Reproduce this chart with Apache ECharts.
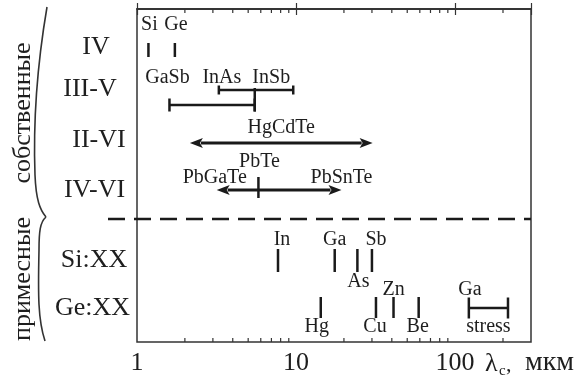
<!DOCTYPE html>
<html><head><meta charset="utf-8">
<script src="https://cdn.jsdelivr.net/npm/echarts@6/dist/echarts.min.js"></script>
<style>html,body{margin:0;padding:0;background:#fff}#c{width:582px;height:376px}</style>
</head><body><div id="c"></div>
<script>
// ---- data ----
const rowNames = ['IV', 'III-V', 'II-VI', 'IV-VI', 'Si:XX', 'Ge:XX'];
const groupNames = ['собственные', 'примесные'];
const xTickLabels = ['1', '10', '100'];
const minorTickValues = [2, 3, 4, 5, 6, 7, 8, 9, 20, 30, 40, 50, 60, 70, 80, 90, 200];
const ivNames = ['Si', 'Ge'];
const ivCutoff = [1.18, 1.73];
const iiivNames = ['GaSb', 'InAs', 'InSb'];
const gasbRange = [1.6, 5.5];
const inasInsbRange = [3.27, 9.6];
const iiviName = 'HgCdTe';
const hgcdteRange = [2.15, 30.3];
const ivviNames = ['PbGaTe', 'PbTe', 'PbSnTe'];
const ivviRange = [3.17, 19.3];
const pbteCutoff = 5.8;
const siNames = ['In', 'Ga', 'As', 'Sb'];
const siCutoff = [7.7, 17.5, 24.3, 30];
const geNames = ['Hg', 'Cu', 'Zn', 'Be'];
const geCutoff = [14.3, 31.8, 41, 59];
const stressNames = ['Ga', 'stress'];
const stressRange = [122, 215];

// ---- layout (vertical positions in grid units, pixel offsets) ----
const L = {
  IV: {tick: [34, 48], label: 16},
  IIIV: {hi: 81, hiCap: 4.5, lo: 96, loCap: 6.5, label: 69},
  IIVI: {y: 134, label: 119},
  IVVI: {y: 181, tick: [168, 189], mid: 153, side: 169},
  sep: 210,
  Si: {tick: [240, 263], above: 231, below: 273, side: ['a', 'a', 'b', 'a'], dx: [4, 0, 1, 4]},
  Ge: {tick: [288, 309], bar: 299, cap: 10.5, above: 281, below: 318, side: ['b', 'b', 'a', 'b'], dx: [-4, -1, 0, -1]}
};
const rowLabelPos = [[96, 47], [90, 89], [99, 140], [94.5, 190], [94, 260.5], [92.5, 308]];
const groupPos = [[23, 113], [23, 279]];
const braceCurves = [
  [47, 7, 38, 60, 33, 120, 35, 175],
  [35, 175, 36, 200, 40, 210, 46, 217],
  [46, 217, 40, 222, 39, 232, 39, 250],
  [39, 250, 38, 295, 38, 320, 45, 341]
];
const FONT = '"Liberation Serif", "DejaVu Serif", serif';
const INK = '#1a1a1a';

// ---- build marks ----
const marks = [];
const vline = (x, y1, y2) => marks.push({k: 'v', x, y1, y2});
const hbar = (r, y, cap) => marks.push({k: 'bar', x1: r[0], x2: r[1], y, cap});
const arrow = (r, y) => marks.push({k: 'arrow', x1: r[0], x2: r[1], y});
const label = (text, x, y, dx) => marks.push({k: 'text', text, x, y, dx: dx || 0});
const geo = r => Math.sqrt(r[0] * r[1]);

minorTickValues.forEach(v => marks.push({k: 'minor', x: v}));

ivCutoff.forEach((v, i) => { vline(v, L.IV.tick[0], L.IV.tick[1]); label(ivNames[i], v, L.IV.label, 1); });

hbar(gasbRange, L.IIIV.lo, L.IIIV.loCap);
hbar(inasInsbRange, L.IIIV.hi, L.IIIV.hiCap);
vline(gasbRange[1], L.IIIV.hi - 2, L.IIIV.lo + L.IIIV.loCap);
label(iiivNames[0], gasbRange[0], L.IIIV.label, -2);
label(iiivNames[1], inasInsbRange[0], L.IIIV.label, 3);
label(iiivNames[2], inasInsbRange[1], L.IIIV.label, -22);

arrow(hgcdteRange, L.IIVI.y);
label(iiviName, geo(hgcdteRange), L.IIVI.label, 0);

arrow(ivviRange, L.IVVI.y);
vline(pbteCutoff, L.IVVI.tick[0], L.IVVI.tick[1]);
label(ivviNames[0], ivviRange[0], L.IVVI.side, -2);
label(ivviNames[1], pbteCutoff, L.IVVI.mid, 1);
label(ivviNames[2], ivviRange[1], L.IVVI.side, 0);

marks.push({k: 'dash', y: L.sep});

siCutoff.forEach((v, i) => {
  vline(v, L.Si.tick[0], L.Si.tick[1]);
  label(siNames[i], v, L.Si.side[i] === 'a' ? L.Si.above : L.Si.below, L.Si.dx[i]);
});
geCutoff.forEach((v, i) => {
  vline(v, L.Ge.tick[0], L.Ge.tick[1]);
  label(geNames[i], v, L.Ge.side[i] === 'a' ? L.Ge.above : L.Ge.below, L.Ge.dx[i]);
});
hbar(stressRange, L.Ge.bar, L.Ge.cap);
label(stressNames[0], stressRange[0], L.Ge.above, 1);
label(stressNames[1], geo(stressRange), L.Ge.below, 0);

function renderItem(params, api) {
  const m = marks[params.dataIndex];
  const P = (x, y) => api.coord([x, y]);
  const st = {stroke: INK, lineWidth: 2.5};
  const line = (a, b, s) => ({type: 'line', shape: {x1: a[0], y1: a[1], x2: b[0], y2: b[1]}, style: s || st});
  if (m.k === 'v') return line(P(m.x, m.y1), P(m.x, m.y2));
  if (m.k === 'minor') {
    const t = P(m.x, 0), b = P(m.x, 333);
    const s = {stroke: '#333', lineWidth: 1.2};
    return {type: 'group', children: [line(t, [t[0], t[1] + 4], s), line(b, [b[0], b[1] - 4], s)]};
  }
  if (m.k === 'bar') {
    const a = P(m.x1, m.y), b = P(m.x2, m.y);
    return {type: 'group', children: [
      line(a, b),
      line([a[0], a[1] - m.cap], [a[0], a[1] + m.cap]),
      line([b[0], b[1] - m.cap], [b[0], b[1] + m.cap])
    ]};
  }
  if (m.k === 'arrow') {
    const a = P(m.x1, m.y), b = P(m.x2, m.y);
    const h = 13, w = 5;
    return {type: 'group', children: [
      line([a[0] + h - 2, a[1]], [b[0] - h + 2, b[1]], {stroke: INK, lineWidth: 3}),
      {type: 'polygon', shape: {points: [[a[0], a[1]], [a[0] + h, a[1] - w], [a[0] + h - 3, a[1]], [a[0] + h, a[1] + w]]}, style: {fill: INK}},
      {type: 'polygon', shape: {points: [[b[0], b[1]], [b[0] - h, b[1] - w], [b[0] - h + 3, b[1]], [b[0] - h, b[1] + w]]}, style: {fill: INK}}
    ]};
  }
  if (m.k === 'dash') {
    const a = P(1, m.y), b = P(300, m.y);
    return line([a[0] - 29, a[1]], b, {stroke: INK, lineWidth: 2.5, lineDash: [17, 9]});
  }
  if (m.k === 'text') {
    const p = P(m.x, m.y);
    return {type: 'text', x: p[0] + m.dx, y: p[1], style: {text: m.text, fontSize: 20, fontFamily: FONT, fill: '#1e1e1e', align: 'center', verticalAlign: 'middle'}};
  }
  return null;
}

const graphics = [];
rowNames.forEach((n, i) => graphics.push({type: 'text', x: rowLabelPos[i][0], y: rowLabelPos[i][1], style: {text: n, fontSize: 26, fontFamily: FONT, fill: '#1e1e1e', align: 'center', verticalAlign: 'middle'}}));
groupNames.forEach((n, i) => graphics.push({type: 'text', x: groupPos[i][0], y: groupPos[i][1], rotation: Math.PI / 2, style: {text: n, fontSize: 26, fontFamily: FONT, fill: '#1e1e1e', align: 'center', verticalAlign: 'middle'}}));
braceCurves.forEach(c => graphics.push({type: 'bezierCurve', shape: {x1: c[0], y1: c[1], cpx1: c[2], cpy1: c[3], cpx2: c[4], cpy2: c[5], x2: c[6], y2: c[7]}, style: {stroke: '#333', lineWidth: 1.6, fill: null}}));
graphics.push({type: 'text', x: 485, y: 364, style: {text: 'λ', fontSize: 26, fontFamily: FONT, fill: '#1e1e1e', align: 'left', verticalAlign: 'middle'}});
graphics.push({type: 'text', x: 499, y: 371, style: {text: 'c', fontSize: 15, fontFamily: FONT, fill: '#1e1e1e', align: 'left', verticalAlign: 'middle'}});
graphics.push({type: 'text', x: 506, y: 365, style: {text: ',', fontSize: 22, fontFamily: FONT, fill: '#1e1e1e', align: 'left', verticalAlign: 'middle'}});
graphics.push({type: 'text', x: 574, y: 363, style: {text: 'мкм', fontSize: 28, fontFamily: FONT, fill: '#1e1e1e', align: 'right', verticalAlign: 'middle'}});

const axisBase = {
  type: 'log', logBase: 10, min: 1, max: 300,
  axisLine: {show: true, lineStyle: {color: '#333', width: 1.5}},
  axisTick: {show: true, inside: true, length: 6, lineStyle: {color: '#333', width: 1.2}},
  splitLine: {show: false}
};

const chart = echarts.init(document.getElementById('c'), null, {renderer: 'canvas'});
chart.setOption({
  animation: false,
  backgroundColor: '#fff',
  grid: {left: 137, right: 51, top: 9, bottom: 34, show: true, borderColor: '#333', borderWidth: 1.5, backgroundColor: 'transparent'},
  xAxis: [
    Object.assign({}, axisBase, {position: 'bottom', axisLabel: {
      formatter: v => { const s = String(Math.round(v)); return xTickLabels.includes(s) ? s : ''; },
      fontSize: 26, fontFamily: FONT, color: '#1e1e1e', margin: 8
    }}),
    Object.assign({}, axisBase, {position: 'top', axisLabel: {show: false}})
  ],
  yAxis: {type: 'value', min: 0, max: 333, inverse: true, show: false},
  graphic: graphics,
  series: [{
    type: 'custom', clip: false, silent: true,
    renderItem: renderItem,
    data: marks.map(() => [1, 0])
  }]
});
</script></body></html>
